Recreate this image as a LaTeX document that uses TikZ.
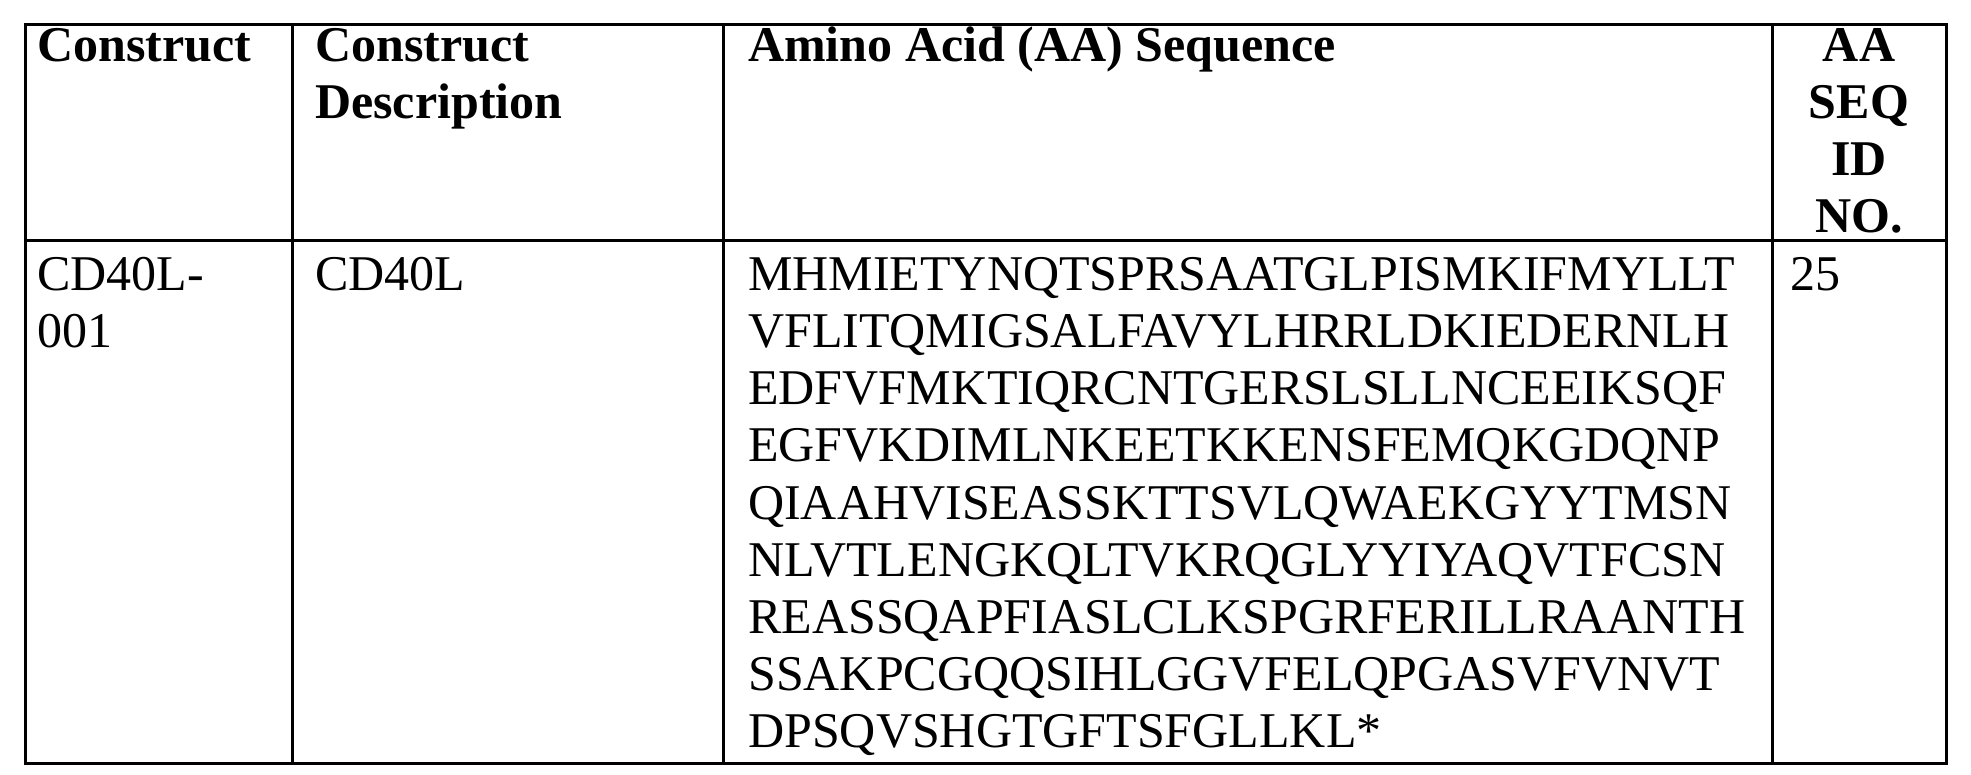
\documentclass[tikz,border=0pt]{standalone}
\usepackage{fontspec}
\setmainfont{Liberation Serif}
\begin{document}
\begin{tikzpicture}[x=1pt,y=-1pt,
  cell/.style={anchor=north west,inner sep=0pt,align=left,font=\fontsize{50}{57.2}\selectfont},
  head/.style={cell,font=\bfseries\fontsize{50}{57}\selectfont},
  rule/.style={line width=3pt}]
\useasboundingbox (0,0) rectangle (1971,775);
\draw[rule] (25,25) rectangle (1946,763);
\draw[rule] (25,241) -- (1946,241);
\foreach \x in {292,723,1772} \draw[rule] (\x,25) -- (\x,763);
\node[head] (h1) at (37,21) {\strut Construct};
\node[head] (h2) at (315,21) {\strut Construct\\Description};
\node[head] (h3) at (748,21) {\strut Amino Acid (AA) Sequence};
\node[head,align=center,anchor=north] (h4) at (1859,21) {\strut AA\\SEQ\\ID\\NO.};
\node[cell] (c1) at (37,250) {\strut CD40L-\\001};
\node[cell] (c2) at (315,250) {\strut CD40L};
\node[cell] (c3) at (748,250) {\strut MHMIETYNQTSPRSAATGLPISMKIFMYLLT\\VFLITQMIGSALFAVYLHRRLDKIEDERNLH\\EDFVFMKTIQRCNTGERSLSLLNCEEIKSQF\\EGFVKDIMLNKEETKKENSFEMQKGDQNP\\QIAAHVISEASSKTTSVLQWAEKGYYTMSN\\NLVTLENGKQLTVKRQGLYYIYAQVTFCSN\\REASSQAPFIASLCLKSPGRFERILLRAANTH\\SSAKPCGQQSIHLGGVFELQPGASVFVNVT\\DPSQVSHGTGFTSFGLLKL*};
\node[cell] (c4) at (1790,250) {\strut 25};
\end{tikzpicture}
\end{document}
